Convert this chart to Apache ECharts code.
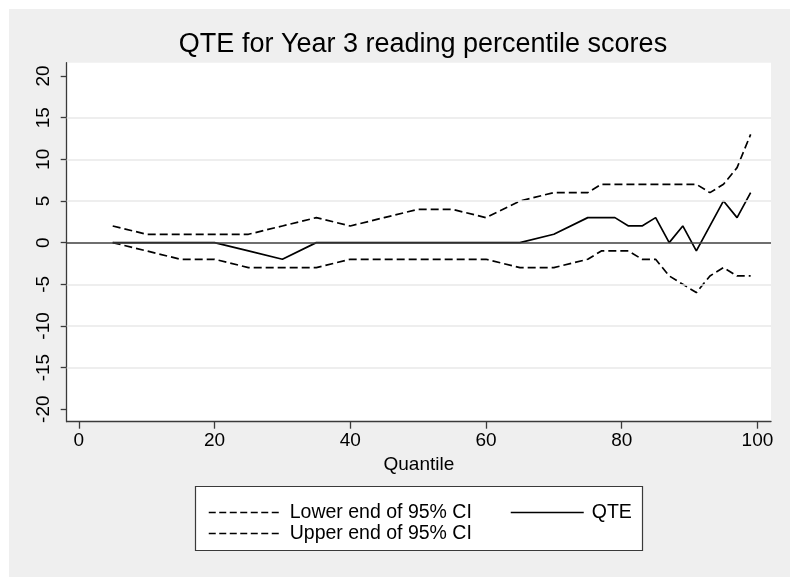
<!DOCTYPE html>
<html>
<head>
<meta charset="utf-8">
<script src="https://cdn.jsdelivr.net/npm/echarts@6/dist/echarts.min.js"></script>
<style>
html,body{margin:0;padding:0;background:#fff;}
#chart{width:800px;height:587px;}
</style>
</head>
<body>
<div id="chart"></div>
<script>
// ---- data ----
const quantiles = [5,10,15,20,25,30,35,40,45,50,55,60,65,70,75,77,79,81,83,85,87,89,91,93,95,97,99];
const lowerCI  = [0,-1,-2,-2,-3,-3,-3,-2,-2,-2,-2,-2,-3,-3,-2,-1,-1,-1,-2,-2,-4,-5,-6,-4,-3,-4,-4];
const upperCI  = [2,1,1,1,1,2,3,2,3,4,4,3,5,6,6,7,7,7,7,7,7,7,7,6,7,9,13];
const qte      = [0,0,0,0,-1,-2,0,0,0,0,0,0,0,1,3,3,3,2,2,3,0,2,-1,2,5,3,6];
const xTicks = [0,20,40,60,80,100];
const yTicks = [-20,-15,-10,-5,0,5,10,15,20];
const gridValues = [-15,-10,-5,5,10,15];
const seriesNames = ['Lower end of 95% CI','QTE','Upper end of 95% CI'];
const titleText = 'QTE for Year 3 reading percentile scores';
const xTitle = 'Quantile';

const FONT = '"Liberation Sans", Arial, Helvetica, sans-serif';
const pairs = arr => quantiles.map((q,i)=>[q,arr[i]]);

const chart = echarts.init(document.getElementById('chart'), null, {renderer:'canvas'});
const legendCommon = {
  orient:'vertical', top:497, itemWidth:73, itemHeight:12, itemGap:0,
  itemStyle:{opacity:0},
  textStyle:{fontFamily:FONT,fontSize:19.5,color:'#000',lineHeight:21,padding:[0,0,0,3]},
  selectedMode:false
};
const option = {
  backgroundColor:'#ffffff',
  animation:false,
  textStyle:{fontFamily:FONT},
  title:{
    text:titleText, left:418, top:26, textAlign:'center',
    textStyle:{fontFamily:FONT,fontSize:27,fontWeight:'normal',color:'#000'}
  },
  graphic:[
    {type:'rect', z:-10, silent:true, shape:{x:9,y:9,width:781,height:568}, style:{fill:'#efefef'}},
    {type:'rect', z:1, silent:true, shape:{x:195.5,y:486.5,width:447,height:64}, style:{fill:'#ffffff',stroke:'#3a3a3a',lineWidth:1.2}}
  ],
  grid:{left:66.7,right:29,top:62.7,bottom:165.3,show:true,backgroundColor:'#ffffff',borderWidth:0},
  xAxis:{
    type:'value', min:-1.78, max:102.0,
    name:xTitle, nameLocation:'middle', nameGap:31,
    nameTextStyle:{fontFamily:FONT,fontSize:19,color:'#000'},
    axisLine:{onZero:false,lineStyle:{color:'#3a3a3a',width:1.3}},
    axisTick:{customValues:xTicks,length:7,lineStyle:{color:'#3a3a3a',width:1.3}},
    axisLabel:{customValues:xTicks,margin:10,fontFamily:FONT,fontSize:19,color:'#000'},
    splitLine:{show:false}
  },
  yAxis:{
    type:'value', min:-21.5, max:21.6,
    axisLine:{onZero:false,lineStyle:{color:'#3a3a3a',width:1.3}},
    axisTick:{customValues:yTicks,length:6,lineStyle:{color:'#3a3a3a',width:1.3}},
    axisLabel:{customValues:yTicks,rotate:90,margin:13,fontFamily:FONT,fontSize:19,color:'#000'},
    splitLine:{show:false}
  },
  legend:[
    Object.assign({data:[seriesNames[0],seriesNames[2]], left:203, lineStyle:{type:[7,3.5],width:1.5}}, legendCommon),
    Object.assign({data:[seriesNames[1]], left:505, lineStyle:{width:1.5}}, legendCommon)
  ],
  series:[
    {
      name:'grid', type:'line', data:[], silent:true, z:1,
      markLine:{
        silent:true, symbol:'none', label:{show:false}, animation:false,
        data:gridValues.map(v=>({yAxis:v, lineStyle:{color:'#e8e8e8',width:1.6,type:'solid'}}))
          .concat([{yAxis:0, lineStyle:{color:'#3f3f3f',width:1.6,type:'solid'}}])
      }
    },
    {
      name:seriesNames[0], type:'line', data:pairs(lowerCI), symbol:'none', z:3,
      itemStyle:{color:'#000'},
      lineStyle:{color:'#000',width:1.7,type:[8,4]}
    },
    {
      name:seriesNames[1], type:'line', data:pairs(qte), symbol:'none', z:3,
      itemStyle:{color:'#000'},
      lineStyle:{color:'#000',width:1.7,type:'solid'}
    },
    {
      name:seriesNames[2], type:'line', data:pairs(upperCI), symbol:'none', z:3,
      itemStyle:{color:'#000'},
      lineStyle:{color:'#000',width:1.7,type:[8,4]}
    }
  ]
};
chart.setOption(option);
</script>
</body>
</html>
